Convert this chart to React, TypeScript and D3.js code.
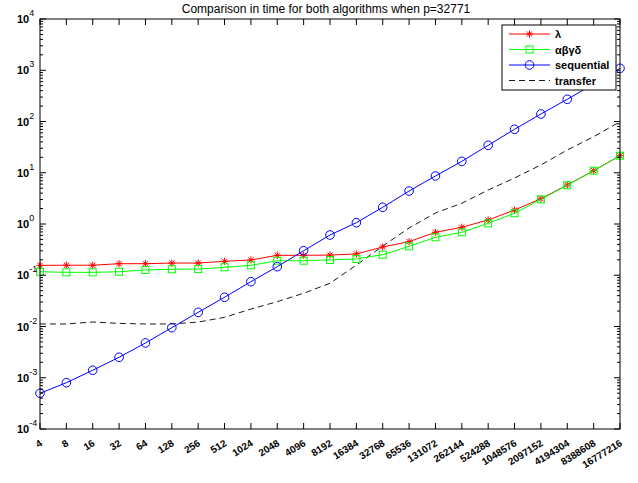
import React from 'react';
import * as d3 from 'd3';

// problem sizes (x categories)
const sizes = ['4', '8', '16', '32', '64', '128', '256', '512', '1024', '2048', '4096', '8192', '16384',
  '32768', '65536', '131072', '262144', '524288', '1048576', '2097152', '4194304', '8388608', '16777216'];

// times
const lambdaTimes = [0.156, 0.157, 0.157, 0.168, 0.168, 0.173, 0.173, 0.187, 0.199, 0.245, 0.245, 0.248, 0.26,
  0.356, 0.452, 0.689, 0.863, 1.2, 1.87, 3.12, 5.77, 10.96, 21.5];
const abgdTimes = [0.117, 0.114, 0.114, 0.117, 0.1265, 0.1306, 0.132, 0.143, 0.156, 0.192, 0.192, 0.199, 0.208,
  0.252, 0.367, 0.55, 0.689, 1.03, 1.62, 3.03, 5.7, 10.96, 21.5];
const sequentialTimes = [4.98e-4, 8.0e-4, 1.4e-3, 2.51e-3, 4.77e-3, 9.5e-3, 1.89e-2, 3.72e-2, 7.5e-2, 0.147, 0.301,
  0.61, 1.06, 2.12, 4.4, 8.65, 16.7, 34.3, 70.5, 140, 271, 540, 1090];
const transferTimes = [0.0112, 0.0112, 0.01225, 0.0115, 0.0112, 0.0112, 0.0122, 0.0151, 0.0219, 0.0305, 0.0445,
  0.0697, 0.158, 0.372, 0.835, 1.64, 2.54, 4.6, 7.9, 14.2, 27.8, 50.5, 99];

const yExponents = [-4, -3, -2, -1, 0, 1, 2, 3, 4];
const legendLabels = ['λ', 'αβγδ', 'sequential', 'transfer'];

const W = 638;
const H = 483;
const margin = { top: 19, right: 18, bottom: 54, left: 40 };

const Star = ({ x, y }: { x: number; y: number }) => {
  const s = 3.6;
  const d = 2.6;
  return (
    <g stroke="#ff0000" strokeWidth={1}>
      <line x1={x - s} y1={y} x2={x + s} y2={y} />
      <line x1={x} y1={y - s} x2={x} y2={y + s} />
      <line x1={x - d} y1={y - d} x2={x + d} y2={y + d} />
      <line x1={x - d} y1={y + d} x2={x + d} y2={y - d} />
    </g>
  );
};

const Square = ({ x, y }: { x: number; y: number }) => (
  <rect x={x - 3.5} y={y - 3.5} width={7} height={7} fill="none" stroke="#00ff00" strokeWidth={1} />
);

const Circle = ({ x, y }: { x: number; y: number }) => (
  <circle cx={x} cy={y} r={4.3} fill="none" stroke="#0000ff" strokeWidth={1} />
);

export default function App() {
  const x0 = margin.left;
  const x1 = W - margin.right;
  const yTop = margin.top;
  const yBot = H - margin.bottom;

  const x = d3.scalePoint<string>().domain(sizes).range([x0, x1]);
  const y = d3.scaleLog().domain([1e-4, 1e4]).range([yBot, yTop]);

  const line = d3
    .line<number>()
    .x((_, i) => x(sizes[i]) as number)
    .y((d) => y(d));

  // minor ticks for the log axis
  const minorTicks: number[] = [];
  yExponents.slice(0, -1).forEach((e) => {
    for (let k = 2; k <= 9; k++) minorTicks.push(k * Math.pow(10, e));
  });

  const series = [
    { data: lambdaTimes, color: '#ff0000', Marker: Star },
    { data: abgdTimes, color: '#00ff00', Marker: Square },
    { data: sequentialTimes, color: '#0000ff', Marker: Circle },
  ];

  const legend = { x: 502, y: 25, w: 114, h: 65 };

  return (
    <svg
      width={W}
      height={H}
      style={{ position: 'absolute', left: 0, top: 0, background: '#fff' }}
      fontFamily="'Liberation Sans', Arial, Helvetica, sans-serif"
    >
      <rect x={0} y={0} width={W} height={H} fill="#fff" />

      {/* title */}
      <text x={326} y={13} textAnchor="middle" fontSize={12} fill="#000">
        Comparison in time for both algorithms when p=32771
      </text>

      {/* data lines */}
      <path d={line(transferTimes) || ''} fill="none" stroke="#000" strokeWidth={0.9} strokeDasharray="6,4" />
      {series.map((s, si) => (
        <g key={si}>
          <path d={line(s.data) || ''} fill="none" stroke={s.color} strokeWidth={1} />
          {s.data.map((v, i) => (
            <s.Marker key={i} x={x(sizes[i]) as number} y={y(v)} />
          ))}
        </g>
      ))}

      {/* axes box */}
      <rect x={x0} y={yTop} width={x1 - x0} height={yBot - yTop} fill="none" stroke="#000" strokeWidth={1} />

      {/* x ticks top and bottom */}
      {sizes.map((s) => {
        const px = x(s) as number;
        return (
          <g key={s}>
            <line x1={px} x2={px} y1={yBot} y2={yBot - 6} stroke="#000" />
            <line x1={px} x2={px} y1={yTop} y2={yTop + 6} stroke="#000" />
            <text
              transform={`translate(${px + 1},${yBot + 13}) rotate(-32)`}
              textAnchor="end"
              dy="0.35em"
              fontSize={10}
              fontWeight="bold"
              fill="#000"
            >
              {s}
            </text>
          </g>
        );
      })}

      {/* y ticks, left and right */}
      {yExponents.map((e) => {
        const py = y(Math.pow(10, e));
        return (
          <g key={e}>
            <line x1={x0} x2={x0 + 6} y1={py} y2={py} stroke="#000" />
            <line x1={x1} x2={x1 - 6} y1={py} y2={py} stroke="#000" />
            <text x={17} y={py + 4} fontSize={11} fontWeight="bold" fill="#000">
              10
              <tspan dy={-7} fontSize={9} fontWeight="normal">
                {e}
              </tspan>
            </text>
          </g>
        );
      })}
      {minorTicks.map((v, i) => {
        const py = y(v);
        return (
          <g key={i}>
            <line x1={x0} x2={x0 + 3} y1={py} y2={py} stroke="#000" />
            <line x1={x1} x2={x1 - 3} y1={py} y2={py} stroke="#000" />
          </g>
        );
      })}

      {/* legend */}
      <rect x={legend.x} y={legend.y} width={legend.w} height={legend.h} fill="#fff" stroke="#000" strokeWidth={1} />
      {legendLabels.map((lab, i) => {
        const ly = 34 + i * 15.5;
        const lx0 = 509;
        const lx1 = 550;
        const mx = (lx0 + lx1) / 2;
        return (
          <g key={lab}>
            {i < 3 ? (
              <>
                <line x1={lx0} x2={lx1} y1={ly} y2={ly} stroke={series[i].color} strokeWidth={1} />
                {React.createElement(series[i].Marker, { x: mx, y: ly })}
              </>
            ) : (
              <line x1={lx0} x2={lx1} y1={ly} y2={ly} stroke="#000" strokeWidth={0.9} strokeDasharray="6,4" />
            )}
            <text x={555} y={ly + 4} fontSize={11} fontWeight="bold" fill="#000">
              {lab}
            </text>
          </g>
        );
      })}
    </svg>
  );
}
